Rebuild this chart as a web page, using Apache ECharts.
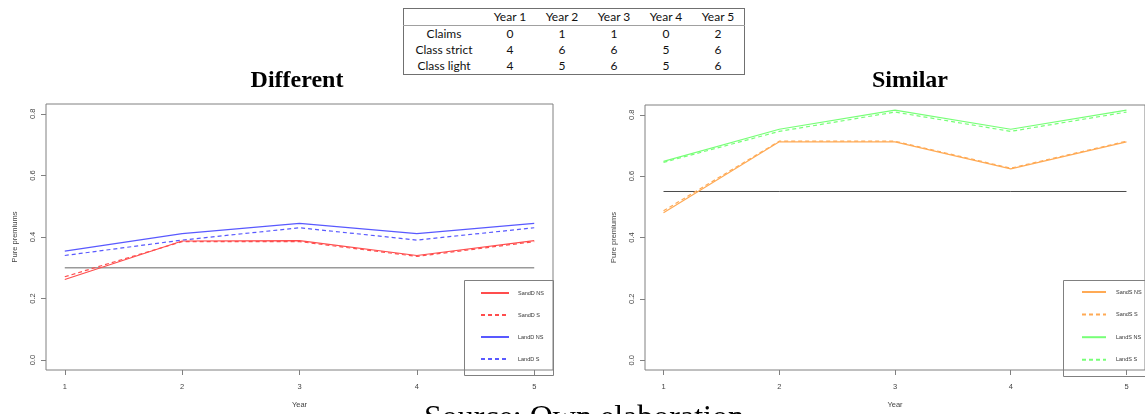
<!DOCTYPE html>
<html>
<head>
<meta charset="utf-8">
<script src="https://cdn.jsdelivr.net/npm/echarts@6/dist/echarts.min.js"></script>
<style>
  html, body { margin: 0; padding: 0; background: #fff; overflow: hidden; }
  #chart { position: absolute; left: 0; top: 0; width: 1145px; height: 414px; }
  #tbl { position: absolute; left: 403px; top: 8px; z-index: 5; border-collapse: collapse;
         border: 1px solid #707070; font-family: 'Lato', 'Open Sans', sans-serif; font-size: 12px; color: #111; background: #fff; }
  #tbl td { height: 16px; padding: 0; text-align: center; line-height: 16px; }
  #tbl td.lab { width: 80px; }
  #tbl td.yr { width: 52px; }
  #tbl tr.hdr td { border-bottom: 1px solid #a0a0a0; }
</style>
</head>
<body>
<div id="chart"></div>
<table id="tbl"></table>
<script>
// ---- data ----
const years = [1, 2, 3, 4, 5];
const yTicks = [0, 0.2, 0.4, 0.6, 0.8];
const tableHeader = ['Year 1', 'Year 2', 'Year 3', 'Year 4', 'Year 5'];
const tableRowNames = ['Claims', 'Class strict', 'Class light'];
const claims = [0, 1, 1, 0, 2];
const classStrict = [4, 6, 6, 5, 6];
const classLight = [4, 5, 6, 5, 6];

const sandD_NS = [0.262, 0.387, 0.388, 0.340, 0.388];
const sandD_S  = [0.271, 0.385, 0.385, 0.337, 0.385];
const landD_NS = [0.354, 0.411, 0.444, 0.411, 0.444];
const landD_S  = [0.340, 0.390, 0.430, 0.390, 0.430];
const refD     = [0.30, 0.30, 0.30, 0.30, 0.30];

const sandS_NS = [0.481, 0.712, 0.712, 0.624, 0.712];
const sandS_S  = [0.487, 0.714, 0.714, 0.626, 0.714];
const landS_NS = [0.648, 0.753, 0.815, 0.753, 0.815];
const landS_S  = [0.645, 0.746, 0.809, 0.746, 0.809];
const refS     = [0.55, 0.55, 0.55, 0.55, 0.55];

// ---- table ----
(function () {
  const t = document.getElementById('tbl');
  let html = '<tr class="hdr"><td class="lab"></td>' + tableHeader.map(h => '<td class="yr">' + h + '</td>').join('') + '</tr>';
  [claims, classStrict, classLight].forEach((row, i) => {
    html += '<tr><td class="lab">' + tableRowNames[i] + '</td>' + row.map(v => '<td class="yr">' + v + '</td>').join('') + '</tr>';
  });
  t.innerHTML = html;
})();

// ---- chart ----
const chart = echarts.init(document.getElementById('chart'), null, { renderer: 'canvas' });
const sans = 'Liberation Sans';
const tickCol = '#808080';
const labCol = '#444';

function mkX(gi) {
  return {
    type: 'value', gridIndex: gi, min: 0.84, max: 5.16,
    axisLine: { show: false, onZero: false }, splitLine: { show: false },
    axisTick: { show: true, length: 5, lineStyle: { color: tickCol }, customValues: years },
    axisLabel: { customValues: years, margin: 13, fontSize: 7.5, color: labCol, fontFamily: sans },
    name: 'Year', nameLocation: 'middle', nameGap: 31,
    nameTextStyle: { fontSize: 7.5, color: labCol, fontFamily: sans }
  };
}
function mkY(gi) {
  return {
    type: 'value', gridIndex: gi, min: -0.032, max: 0.832,
    axisLine: { show: false, onZero: false }, splitLine: { show: false },
    axisTick: { show: true, length: 5, lineStyle: { color: tickCol }, customValues: yTicks },
    axisLabel: { customValues: yTicks, rotate: 90, margin: 9, fontSize: 7.5, color: labCol, fontFamily: sans,
                 formatter: v => v.toFixed(1) },
    name: 'Pure premiums', nameLocation: 'middle', nameGap: 27, nameRotate: 90,
    nameTextStyle: { fontSize: 7.5, color: labCol, fontFamily: sans }
  };
}
function line(name, vals, color, dashed, gi, width) {
  return {
    type: 'line', name: name, xAxisIndex: gi, yAxisIndex: gi,
    data: years.map((x, i) => [x, vals[i]]),
    symbol: 'none', silent: true, animation: false,
    lineStyle: { color: color, width: width || 1.2, type: dashed ? [4, 3] : 'solid' },
    itemStyle: { color: color }
  };
}

const red = '#ff4d4d', blue = '#5959ff', orange = '#ffaa55', green = '#77ff77';
const hiddenSym = { opacity: 0, color: 'rgba(0,0,0,0)', borderColor: 'rgba(0,0,0,0)', borderWidth: 0 };

const option = {
  backgroundColor: '#fff',
  animation: false,
  grid: [
    { left: 46, top: 104, width: 507, height: 271, show: true, borderColor: '#808080', borderWidth: 1, containLabel: false },
    { left: 645, top: 105, width: 506, height: 271, show: true, borderColor: '#808080', borderWidth: 1, containLabel: false }
  ],
  xAxis: [mkX(0), mkX(1)],
  yAxis: [mkY(0), mkY(1)],
  legend: [
    { data: ['SandD NS', 'SandD S', 'LandD NS', 'LandD S'], orient: 'vertical', left: 480, top: 289,
      itemWidth: 28, itemHeight: 10, itemGap: 14, padding: 0, selectedMode: false, itemStyle: hiddenSym,
      textStyle: { fontSize: 5.5, color: '#333', fontFamily: sans, padding: [0, 0, 0, 4] } },
    { data: ['SandS NS', 'SandS S', 'LandS NS', 'LandS S'], orient: 'vertical', left: 1081, top: 288,
      itemWidth: 24, itemHeight: 10, itemGap: 14.6, padding: 0, selectedMode: false, itemStyle: hiddenSym,
      textStyle: { fontSize: 5.5, color: '#333', fontFamily: sans, padding: [0, 0, 0, 5] } }
  ],
  series: [
    line('refD', refD, '#9a9a9a', false, 0, 1.4),
    line('SandD NS', sandD_NS, red, false, 0),
    line('SandD S', sandD_S, red, true, 0),
    line('LandD NS', landD_NS, blue, false, 0),
    line('LandD S', landD_S, blue, true, 0),
    line('refS', refS, '#4a4a4a', false, 1, 1),
    line('SandS NS', sandS_NS, orange, false, 1),
    line('SandS S', sandS_S, orange, true, 1),
    line('LandS NS', landS_NS, green, false, 1),
    line('LandS S', landS_S, green, true, 1)
  ],
  graphic: [
    { type: 'rect', silent: true, shape: { x: 464.5, y: 280.5, width: 89, height: 95 },
      style: { fill: 'rgba(0,0,0,0)', stroke: '#808080', lineWidth: 1 } },
    { type: 'rect', silent: true, shape: { x: 1063.5, y: 280.5, width: 100, height: 96 },
      style: { fill: 'rgba(0,0,0,0)', stroke: '#808080', lineWidth: 1 } },
    { type: 'text', x: 297, y: 81, silent: true,
      style: { text: 'Different', font: 'bold 24px "Liberation Serif"', fill: '#000', align: 'center', verticalAlign: 'middle' } },
    { type: 'text', x: 910, y: 81, silent: true,
      style: { text: 'Similar', font: 'bold 24px "Liberation Serif"', fill: '#000', align: 'center', verticalAlign: 'middle' } },
    { type: 'text', x: 424, y: 419, silent: true,
      style: { text: 'Source: Own elaboration', font: '32px "Liberation Serif"', fill: '#000', align: 'left', verticalAlign: 'middle' } }
  ]
};
chart.setOption(option);
</script>
</body>
</html>
